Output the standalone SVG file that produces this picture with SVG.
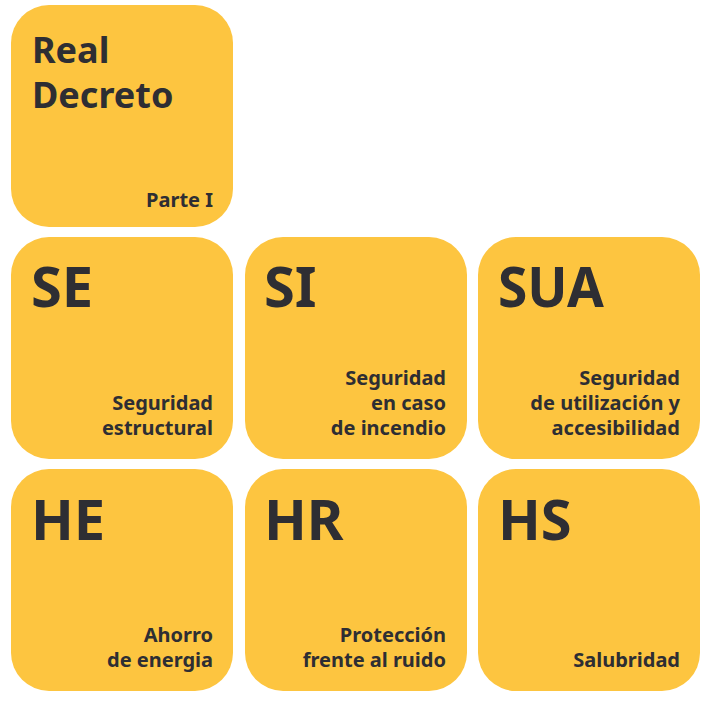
<svg xmlns="http://www.w3.org/2000/svg" width="719" height="701" viewBox="0 0 719 701">
<style>
.box{fill:#FDC540;}
.big{font-family:"Noto Sans","DejaVu Sans",sans-serif;font-weight:bold;fill:#2E2E33;font-size:56px;}
.title{font-family:"Noto Sans","DejaVu Sans",sans-serif;font-weight:bold;fill:#2E2E33;font-size:36px;}
.sub{font-family:"Noto Sans","DejaVu Sans",sans-serif;font-weight:bold;fill:#2E2E33;font-size:20px;text-anchor:end;}
</style>
<rect width="719" height="701" fill="#FFFFFF"/>
<g id="rd">
<rect class="box" x="11" y="5" width="222" height="222" rx="38"/>
<text class="title" x="32" y="63">Real</text>
<text class="title" x="32" y="108">Decreto</text>
<text class="sub" x="213" y="207">Parte I</text>
</g>
<g id="se">
<rect class="box" x="11" y="237" width="222" height="222" rx="38"/>
<text class="big" x="31" y="307">SE</text>
<text class="sub" x="213" y="410">Seguridad</text>
<text class="sub" x="213" y="435">estructural</text>
</g>
<g id="si">
<rect class="box" x="245" y="237" width="222" height="222" rx="38"/>
<text class="big" x="264" y="307">SI</text>
<text class="sub" x="446" y="385">Seguridad</text>
<text class="sub" x="446" y="410">en caso</text>
<text class="sub" x="446" y="435">de incendio</text>
</g>
<g id="sua">
<rect class="box" x="478" y="237" width="222" height="222" rx="38"/>
<text class="big" x="498" y="307" textLength="106" lengthAdjust="spacingAndGlyphs">SUA</text>
<text class="sub" x="680" y="385">Seguridad</text>
<text class="sub" x="680" y="410">de utilización y</text>
<text class="sub" x="680" y="435">accesibilidad</text>
</g>
<g id="he">
<rect class="box" x="11" y="469" width="222" height="222" rx="38"/>
<text class="big" x="31" y="540">HE</text>
<text class="sub" x="213" y="642">Ahorro</text>
<text class="sub" x="213" y="667">de energia</text>
</g>
<g id="hr">
<rect class="box" x="245" y="469" width="222" height="222" rx="38"/>
<text class="big" x="264" y="540">HR</text>
<text class="sub" x="446" y="642">Protección</text>
<text class="sub" x="446" y="667">frente al ruido</text>
</g>
<g id="hs">
<rect class="box" x="478" y="469" width="222" height="222" rx="38"/>
<text class="big" x="498" y="540">HS</text>
<text class="sub" x="680" y="667">Salubridad</text>
</g>
<g id="connectors"/>
</svg>
